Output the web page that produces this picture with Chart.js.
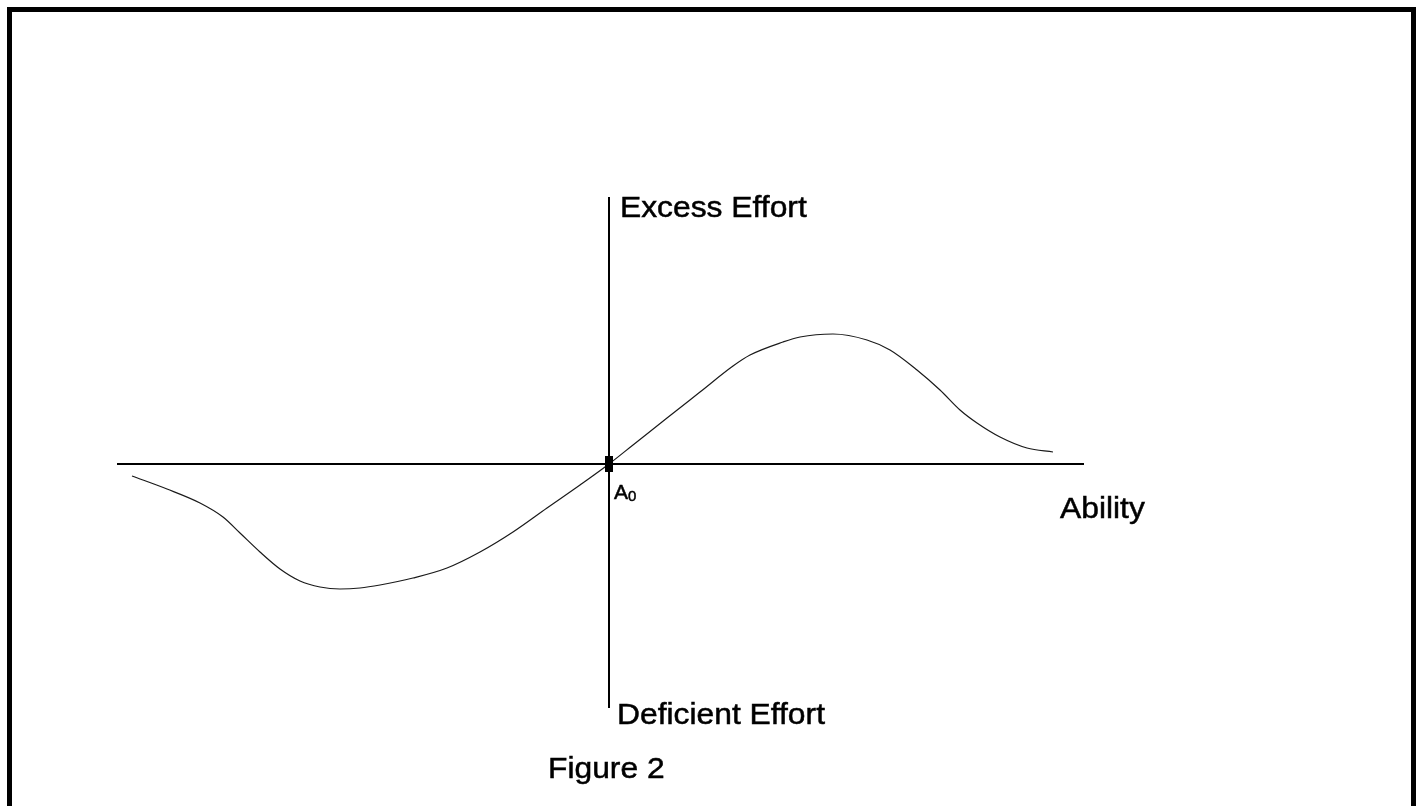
<!DOCTYPE html>
<html>
<head>
<meta charset="utf-8">
<script src="https://cdn.jsdelivr.net/npm/chart.js@4"></script>
<style>
  html, body { margin: 0; padding: 0; background: #fff; width: 1421px; height: 806px; overflow: hidden; }
  #frame { position: absolute; left: 7px; top: 7px; width: 1399px; height: 830px; border: 5px solid #000; box-sizing: content-box; }
  canvas { position: absolute; left: 0; top: 0; }
  .lbl { position: absolute; font-family: "Liberation Sans", Arial, sans-serif; font-size: 30px; line-height: 30px; color: #000; white-space: nowrap; transform: scaleX(1.06); transform-origin: 0 0; -webkit-text-stroke: 0.5px #000; }
  .a0 { font-size: 21px; line-height: 21px; transform: none; }
  .a0 sub { font-size: 15px; position: relative; top: 2px; vertical-align: baseline; }
</style>
</head>
<body>
<div id="frame"></div>
<canvas id="c" width="1421" height="806"></canvas>
<div class="lbl" style="left:620px; top:192px;">Excess Effort</div>
<div class="lbl" style="left:617px; top:699px;">Deficient Effort</div>
<div class="lbl" style="left:1060px; top:493px;">Ability</div>
<div class="lbl" style="left:548px; top:753px;">Figure 2</div>
<div class="lbl a0" style="left:614px; top:481px;">A<sub>0</sub></div>
<script>
// Ability (horizontal, relative to A0) and effort (vertical) values
const abilityValues = [-477, -442, -409, -386, -369, -349, -329, -309, -289, -269, -249, -229, -196, -162, -129, -96, -62, -29, 0, 24, 58, 91, 124, 141, 174, 191, 224, 258, 281, 308, 331, 351, 368, 391, 418, 444];
const effortValues  = [-12, -25, -39, -53, -69, -88, -105, -117, -123, -125, -124, -121, -114, -104, -88, -68, -44, -21, 0, 19, 46, 72, 98, 109, 122, 127, 130, 124, 114, 94, 74, 54, 41, 27, 16, 12];
const originPoint = [{x: 0, y: 0}];
const xRange = [-491, 474];
const yRange = [-243, 266];

const curve = abilityValues.map((a, i) => ({x: a, y: effortValues[i]}));

const marker = document.createElement('canvas');
marker.width = 8; marker.height = 16;
const mctx = marker.getContext('2d');
mctx.fillStyle = '#000';
mctx.fillRect(0, 0, 8, 16);

new Chart(document.getElementById('c'), {
  type: 'scatter',
  data: {
    datasets: [
      {
        data: originPoint,
        pointStyle: marker,
        pointRadius: 6,
        showLine: false,
        order: 0
      },
      {
        data: curve,
        showLine: true,
        borderColor: '#1a1a1a',
        borderWidth: 1.2,
        pointRadius: 0,
        cubicInterpolationMode: 'monotone',
        fill: false,
        order: 1
      }
    ]
  },
  options: {
    responsive: false,
    animation: false,
    devicePixelRatio: 1,
    layout: { padding: { left: 118, right: 338, top: 198, bottom: 99 } },
    plugins: { legend: { display: false }, tooltip: { enabled: false }, title: { display: false } },
    scales: {
      x: {
        type: 'linear',
        min: xRange[0], max: xRange[1],
        position: { y: 0 },
        grid: { display: false, drawTicks: false },
        border: { display: true, color: '#000', width: 2 },
        ticks: { display: false }
      },
      y: {
        type: 'linear',
        min: yRange[0], max: yRange[1],
        position: { x: 0 },
        grid: { display: false, drawTicks: false },
        border: { display: true, color: '#000', width: 2 },
        ticks: { display: false }
      }
    }
  }
});
</script>
</body>
</html>
